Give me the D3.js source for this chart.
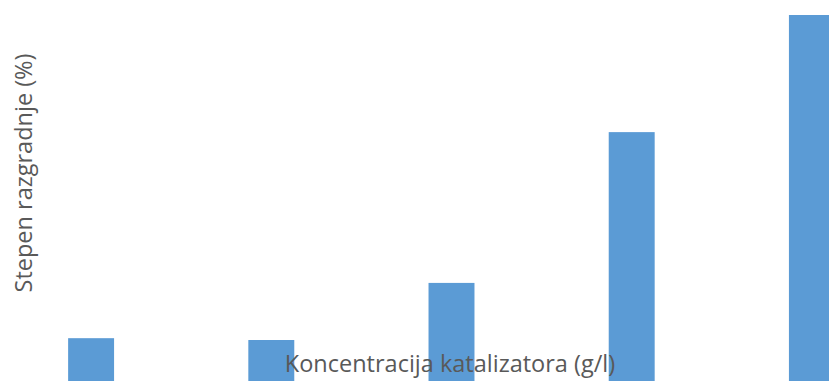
<!DOCTYPE html>
<html>
<head>
<meta charset="utf-8">
<script src="https://cdn.jsdelivr.net/npm/d3@7"></script>
<style>
  html, body { margin: 0; padding: 0; background: #fff; overflow: hidden; }
  svg { display: block; }
</style>
</head>
<body>
<script>
// Catalyst concentration categories and degradation degree (%)
const categories = ["0,5", "1,0", "1,5", "2,0", "2,5"];
const degradation = [11.7, 11.2, 26.8, 68.0, 100];
const yTitle = "Stepen razgradnje (%)";
const xTitle = "Koncentracija katalizatora (g/l)";

const width = 829, height = 381;
const barColor = "#5B9BD5";
const textColor = "#595959";
const font = "'Open Sans', 'Noto Sans', sans-serif";

const svg = d3.select("body").append("svg")
  .attr("width", width)
  .attr("height", height);

// Plot area runs past the right and bottom edges of the view
const x = d3.scaleBand()
  .domain(categories)
  .range([1, 902])
  .paddingInner(0.745)
  .paddingOuter(0.3725);

const y = d3.scaleLinear()
  .domain([0, 100])
  .range([381, 15]);

svg.append("g")
  .selectAll("rect")
  .data(categories.map((c, i) => ({ c, v: degradation[i] })))
  .join("rect")
  .attr("x", d => x(d.c))
  .attr("width", x.bandwidth())
  .attr("y", d => y(d.v))
  .attr("height", d => y(0) - y(d.v))
  .attr("fill", barColor);

// Axis titles
svg.append("text")
  .attr("transform", "translate(32,173) rotate(-90)")
  .attr("text-anchor", "middle")
  .attr("font-family", font)
  .attr("font-size", 23.5)
  .attr("fill", textColor)
  .text(yTitle);

svg.append("text")
  .attr("x", 450)
  .attr("y", 372)
  .attr("text-anchor", "middle")
  .attr("font-family", font)
  .attr("font-size", 23.5)
  .attr("fill", textColor)
  .text(xTitle);
</script>
</body>
</html>
